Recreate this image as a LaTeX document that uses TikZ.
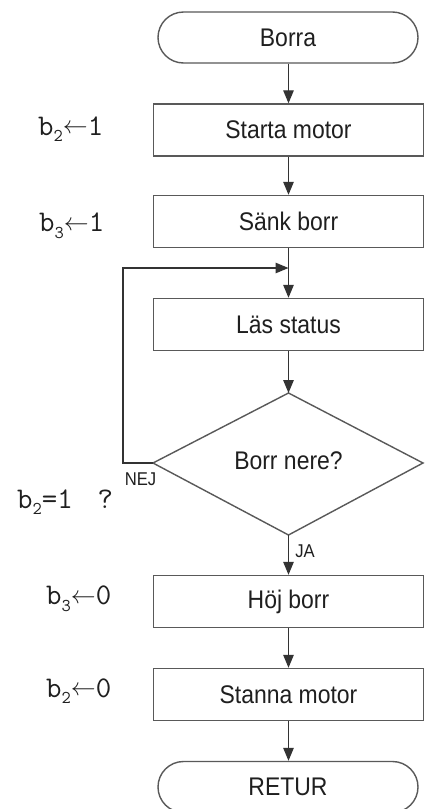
\documentclass[tikz,border=0pt]{standalone}
\usepackage{fontspec}
\setmainfont{Liberation Sans}
\newfontfamily\boxfont[FakeStretch=0.9]{Liberation Sans}
\usetikzlibrary{arrows.meta}

\tikzset{
  boxline/.style={draw=black!65, line width=1.4pt},
  stepbox/.style={boxline, rectangle, minimum width=270pt, minimum height=52pt,
    inner sep=0pt, font=\boxfont\fontsize{25.5}{28}\selectfont, text=black!88},
  termbox/.style={boxline, rectangle, rounded corners=25.5pt, minimum width=260pt,
    minimum height=51pt, inner sep=0pt, font=\boxfont\fontsize{25.5}{28}\selectfont, text=black!88},
  decisionbox/.style={inner sep=0pt, font=\boxfont\fontsize{25.5}{28}\selectfont, text=black!88},
  flow/.style={draw=black!80, line width=1.3pt, -{Triangle[length=13pt,width=10.5pt]}},
  branch/.style={font=\boxfont\fontsize{18.5}{20}\selectfont, text=black!88, inner sep=0pt},
  note/.style={font=\ttfamily\fontsize{30}{32}\selectfont, text=black!88, inner sep=0pt, anchor=west}
}
\newcommand{\subdig}[1]{\raisebox{-0.22em}{\fontsize{18}{19}\selectfont #1}}
\newcommand{\getsarrow}{\raisebox{0.05em}{\fontsize{24}{26}\selectfont$\leftarrow$}}

\begin{document}
\begin{tikzpicture}[x=1pt,y=-1pt]
\useasboundingbox[fill=white] (0,0) rectangle (428,809);

% main column
\node[termbox] (start) at (288,37.5) {Borra};
\node[stepbox] (motor) at (288.5,130) {Starta motor};
\node[stepbox] (lower) at (288.5,221.5) {Sänk borr};
\node[stepbox] (read) at (288.5,324.5) {Läs status};

% decision diamond
\coordinate (dtop) at (288.5,393);
\coordinate (dleft) at (153,463);
\coordinate (dright) at (423,463);
\coordinate (dbot) at (288.5,535);
\draw[boxline, line join=miter] (dtop) -- (dright) -- (dbot) -- (dleft) -- cycle;
\node[decisionbox] (ask) at (288.5,461) {Borr nere?};

\node[stepbox] (raise) at (288.5,601.5) {Höj borr};
\node[stepbox] (stop) at (288.5,694.5) {Stanna motor};
\node[termbox] (ret) at (288,787) {RETUR};

% connectors
\draw[flow] (start.south -| motor.north) -- (motor.north);
\draw[flow] (motor) -- (lower);
\draw[flow] (lower) -- (read);
\draw[flow] (read) -- (dtop);
\draw[flow] (dbot) -- (raise);
\draw[flow] (raise) -- (stop);
\draw[flow] (stop.south) -- (stop.south |- ret.north);

% loop back on NEJ
\coordinate (join) at (288.5,268);
\coordinate (lcorner) at (123,463);
\draw[flow] (dleft) -- (lcorner) -- (lcorner |- join) -- (join);

% branch labels
\node[branch] (nej) at (140.5,479) {NEJ};
\node[branch] (ja) at (305,551) {JA};

% register notes
\node[note] (n1) at (38,129) {b\subdig{2}\getsarrow1};
\node[note] (n2) at (39,226) {b\subdig{3}\getsarrow1};
\node[note] (n3) at (17,502) {b\subdig{2}=1\hspace{0.83em}?};
\node[note] (n4) at (46,599) {b\subdig{3}\getsarrow0};
\node[note] (n5) at (46,691) {b\subdig{2}\getsarrow0};
\end{tikzpicture}
\end{document}
